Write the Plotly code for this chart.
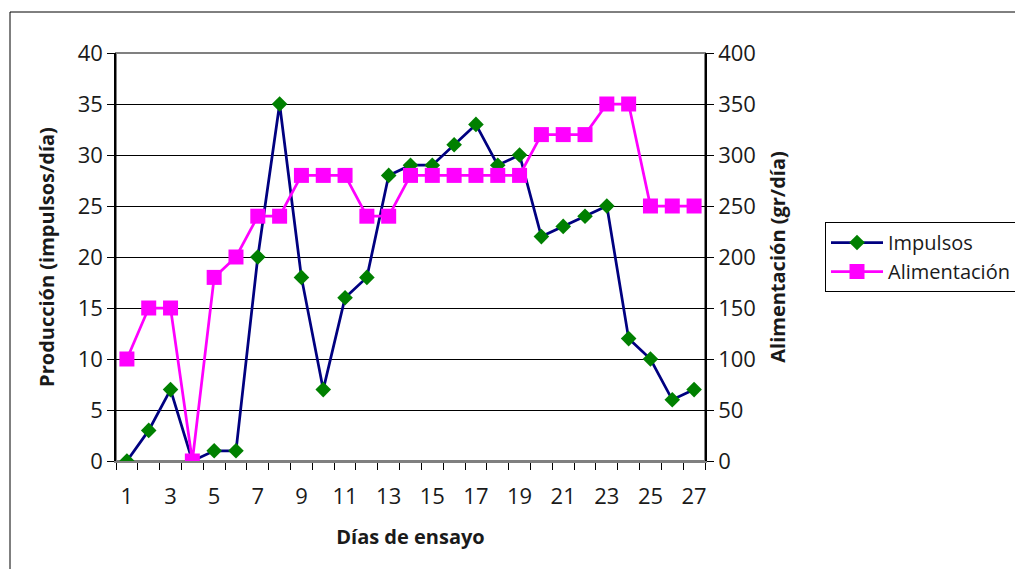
import plotly.graph_objects as go

# Daily trial data
dias = list(range(1, 28))
impulsos = [0, 3, 7, 0, 1, 1, 20, 35, 18, 7, 16, 18, 28, 29, 29, 31, 33, 29, 30,
            22, 23, 24, 25, 12, 10, 6, 7]
alimentacion = [100, 150, 150, 0, 180, 200, 240, 240, 280, 280, 280, 240, 240, 280,
                280, 280, 280, 280, 280, 320, 320, 320, 350, 350, 250, 250, 250]
x_ticks = list(range(1, 28, 2))

FONT = "Open Sans"
TXT = "#1a1a1a"
W, H = 1015, 569
L, R, T, B = 116, 310, 53, 108
pw, ph = W - L - R, H - T - B


def px_x(p):
    return (p - L) / pw


def px_y(p):
    return (H - B - p) / ph


fig = go.Figure()
fig.add_trace(go.Scatter(
    x=dias, y=impulsos, name="Impulsos", mode="lines+markers",
    line=dict(color="#000080", width=2.75),
    marker=dict(symbol="diamond", size=12, color="#008000"),
    yaxis="y",
))
fig.add_trace(go.Scatter(
    x=dias, y=alimentacion, name="Alimentación", mode="lines+markers",
    line=dict(color="#FF00FF", width=2.75),
    marker=dict(symbol="square", size=15, color="#FF00FF"),
    yaxis="y2",
))

fig.update_layout(
    width=W, height=H,
    margin=dict(l=L, r=R, t=T, b=B),
    paper_bgcolor="white", plot_bgcolor="white",
    font=dict(family=FONT, size=22, color=TXT),
    showlegend=True,
    legend=dict(
        xref="container", yref="container",
        x=825 / W, y=1 - 222 / H, xanchor="left", yanchor="top",
        bordercolor="black", borderwidth=1, bgcolor="white",
        font=dict(family=FONT, size=20, color=TXT),
        itemwidth=52, tracegroupgap=0,
    ),
    xaxis=dict(
        range=[0.5, 27.5], tickmode="array", tickvals=x_ticks,
        ticks="", showgrid=False, zeroline=False,
        showline=True, linecolor="#808080", linewidth=2,
        ticklabelstandoff=15,
        minor=dict(tick0=0.5, dtick=1, ticks="outside", ticklen=7,
                   tickcolor="black", tickwidth=1, showgrid=False),
        title=dict(text="<b>Días de ensayo</b>", standoff=21,
                   font=dict(family=FONT, size=20, color=TXT)),
    ),
    yaxis=dict(
        range=[0, 40], dtick=5, ticks="outside", ticklen=7, tickcolor="black",
        showgrid=True, gridcolor="black", gridwidth=1, zeroline=False,
        showline=True, linecolor="black", linewidth=1.5,
        title=dict(text="<b>Producción (impulsos/día)</b>", standoff=18,
                   font=dict(family=FONT, size=20, color=TXT)),
    ),
    yaxis2=dict(
        range=[0, 400], dtick=50, overlaying="y", side="right",
        ticks="outside", ticklen=7, tickcolor="black",
        showgrid=False, zeroline=False,
        showline=True, linecolor="black", linewidth=1.5,
        title=dict(text="<b>Alimentación (gr/día)</b>", standoff=16,
                   font=dict(family=FONT, size=20, color=TXT)),
    ),
    shapes=[
        # gray plot-area frame
        dict(type="rect", xref="paper", yref="paper", x0=0, x1=1, y0=0, y1=1,
             line=dict(color="#808080", width=2), layer="below"),
        # outer chart border
        dict(type="rect", xref="paper", yref="paper",
             x0=px_x(10), x1=px_x(1040), y0=px_y(600), y1=px_y(12),
             line=dict(color="black", width=1), layer="below"),
    ],
)

fig.write_html("out.html")
